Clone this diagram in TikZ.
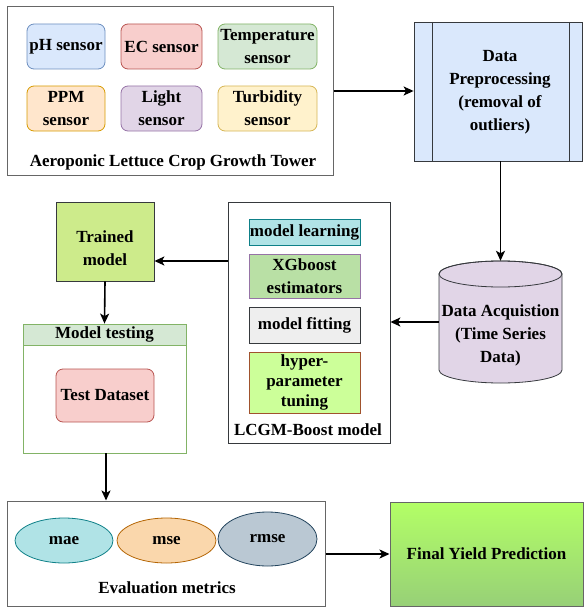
\documentclass[tikz,border=0pt]{standalone}
\usepackage{fontspec}
\setmainfont{Liberation Serif}
\usetikzlibrary{arrows.meta,shapes.geometric}
\definecolor{bluef}{HTML}{DAE8FC}\definecolor{blued}{HTML}{6C8EBF}
\definecolor{redf}{HTML}{F8CECC}\definecolor{redd}{HTML}{B85450}
\definecolor{greenf}{HTML}{D5E8D4}\definecolor{greend}{HTML}{82B366}
\definecolor{orangef}{HTML}{FFE6CC}\definecolor{oranged}{HTML}{D79B00}
\definecolor{purplef}{HTML}{E1D5E7}\definecolor{purpled}{HTML}{9673A6}
\definecolor{yellowf}{HTML}{FFF2CC}\definecolor{yellowd}{HTML}{D6B656}
\definecolor{tealf}{HTML}{B0E3E6}\definecolor{teald}{HTML}{0E8088}
\definecolor{xgf}{HTML}{B9E0A5}
\definecolor{grayf}{HTML}{EEEEEE}\definecolor{darkd}{HTML}{36393D}
\definecolor{limef}{HTML}{CCFF99}\definecolor{brownd}{HTML}{A0522D}
\definecolor{trainf}{HTML}{CDEB8B}
\definecolor{msef}{HTML}{FAD7AC}\definecolor{msed}{HTML}{B46504}
\definecolor{rmsef}{HTML}{BAC8D3}\definecolor{rmsed}{HTML}{23445D}
\definecolor{outd}{HTML}{666666}
\definecolor{fytop}{HTML}{B3FF66}\definecolor{fybot}{HTML}{97D077}
\tikzset{
  every node/.style={font=\fontsize{17}{23}\selectfont\bfseries, align=center, inner sep=0pt},
  sensorbox/.style={draw, rounded corners=7pt, line width=0.8pt},
  plainbox/.style={draw, line width=0.8pt},
  outerbox/.style={draw=outd, line width=1pt},
  metric/.style={ellipse, draw, line width=0.8pt},
  arr/.style={line width=1.6pt, -{Stealth[length=10pt,width=9pt,inset=2.5pt]}},
}
\begin{document}
\begin{tikzpicture}[x=1pt,y=-1pt]
\useasboundingbox (0,0) rectangle (583,607);
% Tower
\node[outerbox, minimum width=326pt, minimum height=168pt] (tower) at (170,91) {};
\node[sensorbox, fill=bluef, draw=blued, minimum width=78pt, minimum height=45pt] (ph) at (66,46.5) {pH sensor};
\node[sensorbox, fill=redf, draw=redd, minimum width=81pt, minimum height=45pt] (ec) at (161.5,46.5) {EC sensor};
\node[sensorbox, fill=greenf, draw=greend, minimum width=99pt, minimum height=45pt] (temp) at (267.5,46.5) {Temperature\\sensor};
\node[sensorbox, fill=orangef, draw=oranged, minimum width=78pt, minimum height=45pt] (ppm) at (66,108.5) {PPM\\sensor};
\node[sensorbox, fill=purplef, draw=purpled, minimum width=81pt, minimum height=45pt] (light) at (161.5,108.5) {Light\\sensor};
\node[sensorbox, fill=yellowf, draw=yellowd, minimum width=99pt, minimum height=45pt] (turb) at (267.5,108.5) {Turbidity\\sensor};
\node (towerlbl) at (173,162) {Aeroponic Lettuce Crop Growth Tower};
% Preprocessing
\node[plainbox, draw=darkd, fill=bluef, minimum width=168pt, minimum height=139pt] (pre) at (498,91.5) {};
\draw[darkd, line width=0.8pt] (432,22) -- (432,161) (569,22) -- (569,161);
\node (pretxt) at (500,92.5) {Data\\Preprocessing\\(removal of\\outliers)};
% Cylinder
\node[minimum width=123pt, minimum height=122pt] (cyl) at (500.5,322) {};
\path[fill=purplef, draw=darkd, line width=0.8pt] (439,274) -- (439,370) arc[start angle=180, end angle=360, x radius=61.5pt, y radius=13pt] -- (562,274) arc[start angle=0, end angle=180, x radius=61.5pt, y radius=13pt] -- cycle;
\draw[darkd, line width=0.8pt] (500.5,274) ellipse [x radius=61.5pt, y radius=13pt];
\node (cyltxt) at (500.5,335) {Data Acquistion\\(Time Series\\Data)};
% LCGM
\node[draw=darkd, line width=0.8pt, minimum width=162pt, minimum height=241pt] (lcgm) at (309,322.5) {};
\node[plainbox, fill=tealf, draw=teald, minimum width=111pt, minimum height=26pt] (ml) at (304.5,232) {model learning};
\node[plainbox, fill=xgf, draw=purpled, minimum width=111pt, minimum height=44pt] (xg) at (304.5,276) {XGboost\\estimators};
\node[plainbox, fill=grayf, draw=darkd, minimum width=111pt, minimum height=36pt] (mf) at (304.5,325) {model fitting};
\node[plainbox, fill=limef, draw=brownd, minimum width=111pt, minimum height=61pt, font=\fontsize{17}{20}\selectfont\bfseries] (hp) at (304.5,382.5) {hyper-\\parameter\\tuning};
\node (lcgmlbl) at (308,430) {LCGM-Boost model};
% Trained model
\node[plainbox, fill=trainf, draw=darkd, minimum width=98pt, minimum height=79pt] (trained) at (105,241.5) {};
\node (trainedtxt) at (105,248.5) {Trained\\model};
% Model testing
\node[draw=greend, line width=0.8pt, minimum width=163pt, minimum height=129pt] (mtest) at (104.5,388.5) {};
\node[draw=greend, fill=greenf, line width=0.8pt, minimum width=163pt, minimum height=21pt] (mhead) at (104.5,334.5) {Model testing};
\node[sensorbox, fill=redf, draw=redd, minimum width=98pt, minimum height=53pt] (testds) at (105,395.5) {Test Dataset};
% Evaluation
\node[outerbox, minimum width=318pt, minimum height=105pt] (eval) at (166,553.5) {};
\node[metric, fill=tealf, draw=teald, minimum width=98pt, minimum height=45pt] (mae) at (64,540.5) {mae};
\node[metric, fill=msef, draw=msed, minimum width=99pt, minimum height=45pt] (mse) at (166.5,540.5) {mse};
\node[metric, fill=rmsef, draw=rmsed, minimum width=99pt, minimum height=54pt] (rmse) at (267.5,539) {rmse};
\node (evallbl) at (167,588) {Evaluation metrics};
% Final
\node[draw=outd, line width=1pt, top color=fytop, bottom color=fybot, minimum width=193pt, minimum height=104pt] (final) at (486.5,554) {Final Yield Prediction};
% Connectors
\draw[arr] (tower.east) -- (tower.east -| pre.west);
\draw[arr] (pre.south -| cyl.north) -- (cyl.north);
\draw[arr] (cyl.west) -- (cyl.west -| lcgm.east);
\coordinate (tin) at ([yshift=-19.5pt]trained.east);
\draw[arr] (lcgm.west |- tin) -- (tin);
\draw[arr] (trained.south) -- (mhead.north);
\coordinate (mout) at ([xshift=1.5pt]mtest.south);
\draw[arr] (mout) -- (mout |- eval.north);
\draw[arr] (eval.east |- final.west) -- (final.west);
\end{tikzpicture}
\end{document}
